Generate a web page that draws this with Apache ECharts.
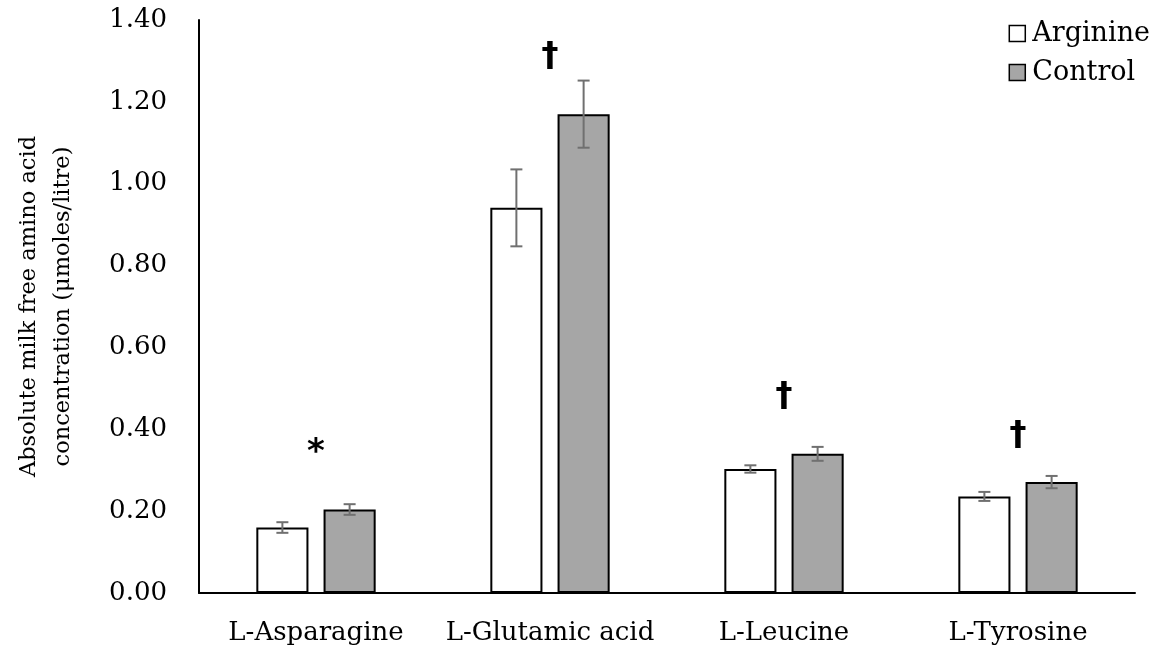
<!DOCTYPE html>
<html>
<head>
<meta charset="utf-8">
<script src="https://cdn.jsdelivr.net/npm/echarts@6/dist/echarts.min.js"></script>
<style>
  html, body { margin: 0; padding: 0; background: #fff; }
  #main { width: 1157px; height: 652px; }
</style>
</head>
<body>
<div id="main"></div>
<script>
// data
var categories = ['L-Asparagine', 'L-Glutamic acid', 'L-Leucine', 'L-Tyrosine'];
var arginine = [0.160, 0.941, 0.303, 0.236];
var arginineErr = [0.013, 0.094, 0.009, 0.011];
var control = [0.204, 1.170, 0.340, 0.271];
var controlErr = [0.013, 0.082, 0.017, 0.015];
// significance marks (text, y position in axis units)
var marks = ['*', '\u2020', '\u2020', '\u2020'];
var markY = [0.342, 1.31, 0.479, 0.384];

var FONT = 'DejaVu Serif';
var CAT_GAP = 0.49, BAR_GAP = 0.29;

var myChart = echarts.init(document.getElementById('main'));

// error bar renderer; side -1 = first bar, +1 = second bar
function errorBars(side) {
    return function (params, api) {
        var cat = api.value(0);
        var lo = api.coord([cat, api.value(1)]);
        var hi = api.coord([cat, api.value(2)]);
        var band = api.size([1, 0])[0];
        var barW = band * (1 - CAT_GAP) / (2 + BAR_GAP);
        var x = lo[0] + side * barW * (1 + BAR_GAP) / 2;
        var cap = 6;
        var style = { stroke: '#707070', lineWidth: 2 };
        return {
            type: 'group',
            children: [
                { type: 'line', shape: { x1: x, y1: lo[1], x2: x, y2: hi[1] }, style: style },
                { type: 'line', shape: { x1: x - cap, y1: lo[1], x2: x + cap, y2: lo[1] }, style: style },
                { type: 'line', shape: { x1: x - cap, y1: hi[1], x2: x + cap, y2: hi[1] }, style: style }
            ]
        };
    };
}

function errData(vals, errs) {
    return vals.map(function (v, i) { return [i, v - errs[i], v + errs[i]]; });
}

var option = {
    animation: false,
    backgroundColor: '#fff',
    textStyle: { fontFamily: FONT },
    grid: { left: 199, right: 22, top: 20, bottom: 59, outerBoundsMode: 'none', containLabel: false },
    legend: {
        data: ['Arginine', 'Control'],
        orient: 'vertical',
        right: 2,
        top: 15,
        itemWidth: 16,
        itemHeight: 16,
        itemGap: 12,
        icon: 'rect',
        itemStyle: { borderColor: '#000', borderWidth: 1.5 },
        textStyle: { fontFamily: FONT, fontSize: 27, color: '#000', padding: [0, 0, 0, 2] }
    },
    xAxis: {
        type: 'category',
        data: categories,
        axisLine: { lineStyle: { color: '#000', width: 2 } },
        axisTick: { show: false },
        axisLabel: { fontFamily: FONT, fontSize: 26, color: '#000', margin: 27, interval: 0, hideOverlap: false }
    },
    yAxis: {
        type: 'value',
        min: 0,
        max: 1.4,
        interval: 0.2,
        name: 'Absolute milk free amino acid\nconcentration (\u03bcmoles/litre)',
        nameLocation: 'middle',
        nameGap: 119,
        nameTextStyle: { fontFamily: FONT, fontSize: 22.5, color: '#000', lineHeight: 34 },
        axisLine: { show: true, lineStyle: { color: '#000', width: 2 } },
        axisTick: { show: false },
        splitLine: { show: false },
        axisLabel: {
            fontFamily: FONT, fontSize: 26, color: '#000', margin: 32,
            formatter: function (v) { return v.toFixed(2); }
        }
    },
    series: [
        {
            name: 'Arginine',
            type: 'bar',
            data: arginine,
            barGap: (BAR_GAP * 100) + '%',
            barCategoryGap: (CAT_GAP * 100) + '%',
            itemStyle: { color: '#fff', borderColor: '#000', borderWidth: 2 }
        },
        {
            name: 'Control',
            type: 'bar',
            data: control,
            itemStyle: { color: '#a6a6a6', borderColor: '#000', borderWidth: 2 }
        },
        {
            type: 'custom',
            renderItem: errorBars(-1),
            data: errData(arginine, arginineErr),
            encode: { x: 0, y: [1, 2] },
            z: 10
        },
        {
            type: 'custom',
            renderItem: errorBars(1),
            data: errData(control, controlErr),
            encode: { x: 0, y: [1, 2] },
            z: 10
        },
        {
            type: 'custom',
            renderItem: function (params, api) {
                var p = api.coord([api.value(0), api.value(1)]);
                return {
                    type: 'text',
                    x: p[0], y: p[1],
                    style: {
                        text: marks[params.dataIndex],
                        fontFamily: 'DejaVu Sans', fontSize: 34, fontWeight: 'bold',
                        fill: '#000', align: 'center', verticalAlign: 'middle'
                    }
                };
            },
            data: markY.map(function (y, i) { return [i, y]; }),
            encode: { x: 0, y: 1 },
            z: 10
        }
    ]
};

myChart.setOption(option);
</script>
</body>
</html>
